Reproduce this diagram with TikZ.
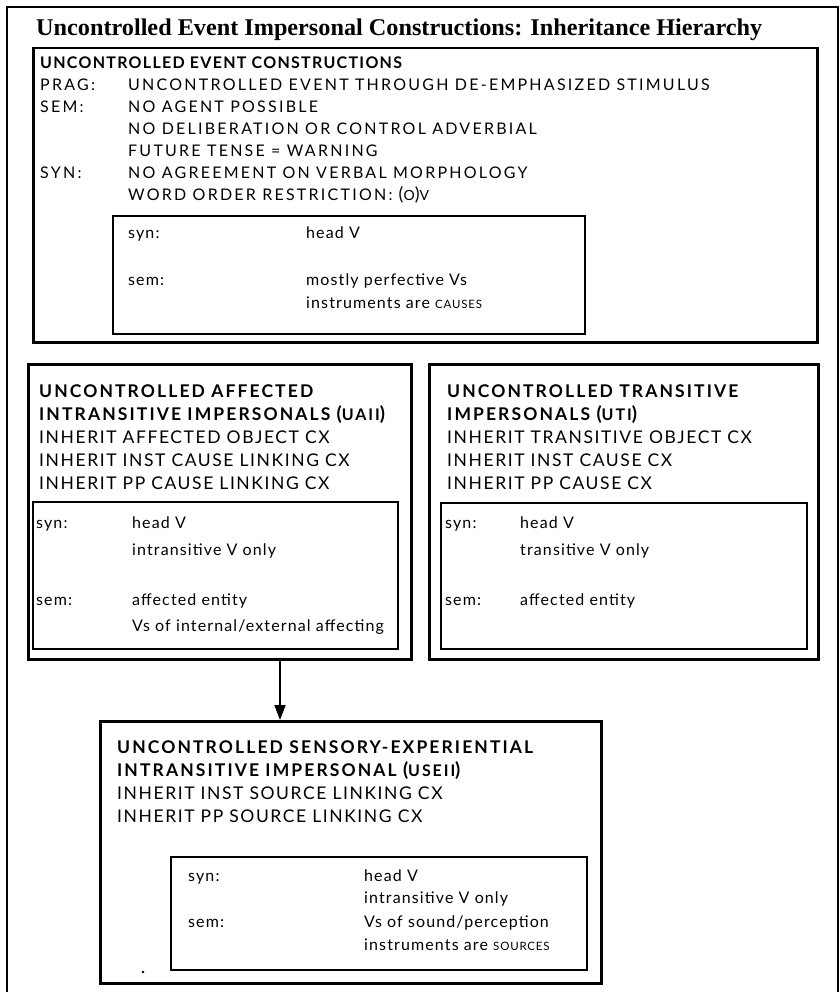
\documentclass[tikz,border=0pt]{standalone}
\usepackage{fontspec}
\setmainfont{Lato}
\newfontfamily\titlefont{Liberation Serif}
\newfontfamily\topfont[LetterSpace=14]{Lato}
\newfontfamily\tophead[LetterSpace=8]{Lato}
\newfontfamily\cxfont[LetterSpace=9]{Lato}
\newfontfamily\cxhead[LetterSpace=12]{Lato}
\newfontfamily\featfont[LetterSpace=7]{Lato}
\usetikzlibrary{arrows.meta}

% abbreviation in parentheses: large brackets, smaller capitals
\newcommand\abbrparen[1]{{\fontsize{19}{19}\selectfont(}{\fontsize{16}{18}\selectfont #1}{\fontsize{19}{19}\selectfont)}}

\begin{document}
\begin{tikzpicture}[x=1pt,y=-1pt,
  framebox/.style={draw,line width=1.8pt,anchor=north west,inner sep=0pt},
  cxbox/.style={draw,line width=2.5pt,anchor=north west,inner sep=0pt},
  subbox/.style={draw,line width=2.2pt,anchor=north west,inner sep=0pt},
  base/.style={anchor=base west,inner sep=0pt},
  t/.style={base,font=\topfont\fontsize{16}{18}\selectfont},
  th/.style={base,font=\tophead\fontsize{16}{18}\selectfont\bfseries},
  lt/.style={base,font=\cxfont\fontsize{17.5}{20}\selectfont},
  lb/.style={base,font=\cxhead\fontsize{17.5}{20}\selectfont\bfseries},
  ft/.style={base,font=\featfont\fontsize{16}{18}\selectfont},
  inherit/.style={-{Triangle[length=15pt,width=11pt]},line width=1.8pt}]
\useasboundingbox (0,0) rectangle (839,992);

% outer frame and heading
\node[framebox,minimum width=831pt,minimum height=995pt] (frame) at (6,6) {};
\node[base,font=\titlefont\fontsize{24}{28}\selectfont\bfseries] (title) at (36,36)
  {\resizebox{726pt}{\height}{Uncontrolled Event Impersonal Constructions: Inheritance Hierarchy}};

% ---- top construction
\node[cxbox,minimum width=784pt,minimum height=294pt] (uec) at (32,47) {};
\node[th] (uechead) at (40,69) {UNCONTROLLED EVENT CONSTRUCTIONS};
\node[t] (prag) at (40,91) {PRAG:};
\node[t] (pragv) at (128,91) {UNCONTROLLED EVENT THROUGH DE-EMPHASIZED STIMULUS};
\node[t] (sem) at (40,113) {SEM:};
\node[t] (semv1) at (128,113) {NO AGENT POSSIBLE};
\node[t] (semv2) at (128,135) {NO DELIBERATION OR CONTROL ADVERBIAL};
\node[t] (semv3) at (128,157) {FUTURE TENSE = WARNING};
\node[t] (syn) at (40,179) {SYN:};
\node[t] (synv1) at (128,179) {NO AGREEMENT ON VERBAL MORPHOLOGY};
\node[t] (synv2) at (128,201) {WORD ORDER RESTRICTION: {\fontsize{18}{18}\selectfont(}{\fontsize{14}{16}\selectfont O}{\fontsize{18}{18}\selectfont)}{\fontsize{14}{16}\selectfont V}};

\node[subbox,minimum width=472pt,minimum height=118pt] (uecin) at (112,215) {};
\node[ft] (uecsyn) at (128,238) {syn:};
\node[ft] (uecsynv) at (306,238) {head V};
\node[ft] (uecsem) at (128,285) {sem:};
\node[ft] (uecsemv1) at (306,285) {mostly perfective Vs};
\node[ft] (uecsemv2) at (306,308) {instruments are {\fontsize{11.5}{14}\selectfont CAUSES}};

% ---- affected intransitive
\node[cxbox,minimum width=383pt,minimum height=295pt] (uaii) at (27,363) {};
\node[lb] (uaiih1) at (39,397) {UNCONTROLLED AFFECTED};
\node[lb] (uaiih2) at (39,420) {INTRANSITIVE IMPERSONALS \abbrparen{UAII}};
\node[lt] (uaii1) at (39,443) {INHERIT AFFECTED OBJECT CX};
\node[lt] (uaii2) at (39,466) {INHERIT INST CAUSE LINKING CX};
\node[lt] (uaii3) at (39,489) {INHERIT PP CAUSE LINKING CX};

\node[subbox,minimum width=365pt,minimum height=147pt] (uaiiin) at (32,501) {};
\node[ft] (uaiisyn) at (36,528) {syn:};
\node[ft] (uaiisynv1) at (132,528) {head V};
\node[ft] (uaiisynv2) at (132,555) {intransitive V only};
\node[ft] (uaiisem) at (36,605) {sem:};
\node[ft] (uaiisemv1) at (132,605) {affected entity};
\node[ft] (uaiisemv2) at (132,631) {Vs of internal/external affecting};

% ---- transitive
\node[cxbox,minimum width=389pt,minimum height=295pt] (uti) at (428,363) {};
\node[lb] (utih1) at (447,397) {UNCONTROLLED TRANSITIVE};
\node[lb] (utih2) at (447,420) {IMPERSONALS \abbrparen{UTI}};
\node[lt] (uti1) at (447,443) {INHERIT TRANSITIVE OBJECT CX};
\node[lt] (uti2) at (447,466) {INHERIT INST CAUSE CX};
\node[lt] (uti3) at (447,489) {INHERIT PP CAUSE CX};

\node[subbox,minimum width=366pt,minimum height=146pt] (utiin) at (440,502) {};
\node[ft] (utisyn) at (445,528) {syn:};
\node[ft] (utisynv1) at (520,528) {head V};
\node[ft] (utisynv2) at (520,555) {transitive V only};
\node[ft] (utisem) at (445,605) {sem:};
\node[ft] (utisemv1) at (520,605) {affected entity};

% ---- sensory-experiential
\node[cxbox,minimum width=501pt,minimum height=262pt] (useii) at (99,720) {};
\node[lb] (useiih1) at (117,753) {UNCONTROLLED SENSORY-EXPERIENTIAL};
\node[lb] (useiih2) at (117,776) {INTRANSITIVE IMPERSONAL \abbrparen{USEII}};
\node[lt] (useii1) at (117,799) {INHERIT INST SOURCE LINKING CX};
\node[lt] (useii2) at (117,822) {INHERIT PP SOURCE LINKING CX};

\node[subbox,minimum width=416pt,minimum height=113pt] (useiiin) at (170,856) {};
\node[ft] (useiisyn) at (188,881) {syn:};
\node[ft] (useiisynv1) at (364,881) {head V};
\node[ft] (useiisynv2) at (364,903) {intransitive V only};
\node[ft] (useiisem) at (188,927) {sem:};
\node[ft] (useiisemv1) at (364,927) {Vs of sound/perception};
\node[ft] (useiisemv2) at (364,950) {instruments are {\fontsize{11.5}{14}\selectfont SOURCES}};

% inheritance link
\coordinate (linkx) at (280,0);
\draw[inherit] (uaii.south -| linkx) -- (useii.north -| linkx);

% speck
\fill (143,972) circle (1.3pt);
\end{tikzpicture}
\end{document}
